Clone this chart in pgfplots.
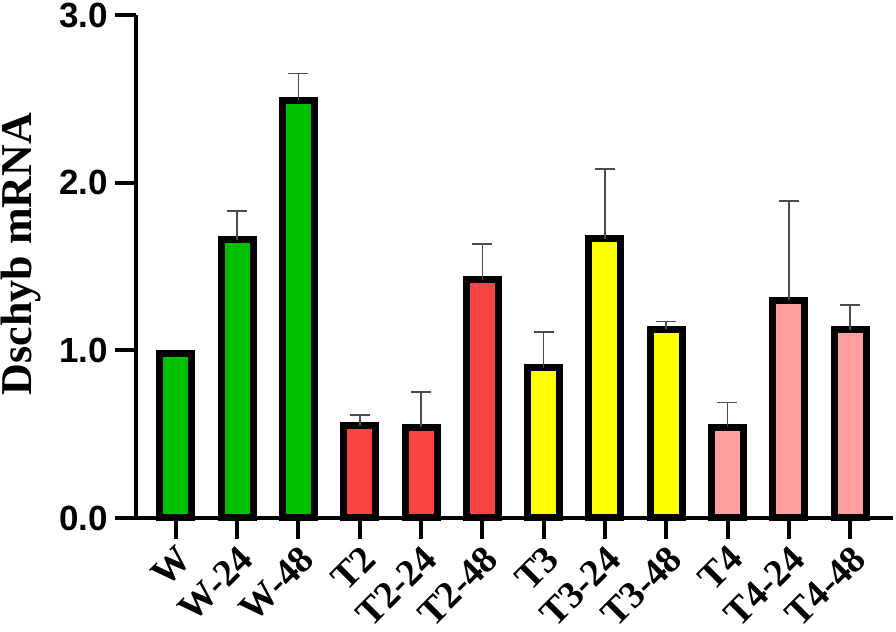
\documentclass[border=0pt]{standalone}
\usepackage{fontspec}
\setmainfont{Liberation Serif}
\newfontfamily\arialfont{Liberation Sans}
\usepackage{pgfplots}
\pgfplotsset{compat=1.18}
\definecolor{cgreen}{RGB}{0,192,0}
\definecolor{cred}{RGB}{250,68,68}
\definecolor{cyellow}{RGB}{255,255,0}
\definecolor{cpink}{RGB}{255,158,158}
\definecolor{errgray}{RGB}{75,75,75}
\pgfplotsset{
  mybar/.style={draw=black, line width=3.5pt, bar width=16pt, bar shift=0pt},
  myerr/.style={error bars/.cd, y dir=plus, y explicit,
     error bar style={line width=0.8pt, draw=errgray},
     error mark options={line width=0.8pt, draw=errgray, mark size=5pt, rotate=90}},
}
\begin{document}
\begin{tikzpicture}
\begin{axis}[
  scale only axis, width=378.5pt, height=251.5pt,
  xmin=-0.65, xmax=11.70, ymin=0, ymax=3,
  axis lines*=left,
  axis line style={line width=2pt, -},
  ybar,
  tick align=outside,
  major tick length=10.5pt,
  tick style={line width=2pt, black},
  ytick={0,1,2,3},
  xtick={0,1,2,3,4,5,6,7,8,9,10,11},
  xticklabels={W,W-24,W-48,T2,T2-24,T2-48,T3,T3-24,T3-48,T4,T4-24,T4-48},
  /pgf/number format/assume math mode=true,
  yticklabel style={/pgf/number format/.cd, fixed, fixed zerofill, precision=1,
     /tikz/.cd, font=\arialfont\bfseries\fontsize{17.5}{17.5}\selectfont},
  xticklabel style={rotate=45, anchor=north east, inner sep=1.5pt,
     font=\bfseries\fontsize{19}{19}\selectfont},
  ylabel={Dschyb mRNA},
  ylabel style={font=\bfseries\fontsize{22}{22}\selectfont, rotate=0,
     at={(axis description cs:-0.152,0.525)}, anchor=center},
  clip=false,
]
\addplot[mybar, fill=cgreen] coordinates {(0,0.98)};
\addplot[mybar, fill=cgreen, myerr] table[x=x, y=y, y error=e] {
x y e
1 1.66 0.17
2 2.49 0.16
};
\addplot[mybar, fill=cred, myerr] table[x=x, y=y, y error=e] {
x y e
3 0.55 0.065
4 0.54 0.21
5 1.42 0.215
};
\addplot[mybar, fill=cyellow, myerr] table[x=x, y=y, y error=e] {
x y e
6 0.895 0.215
7 1.665 0.415
8 1.127 0.045
};
\addplot[mybar, fill=cpink, myerr] table[x=x, y=y, y error=e] {
x y e
9 0.54 0.15
10 1.30 0.59
11 1.123 0.147
};
\end{axis}
\pgfresetboundingbox
\useasboundingbox (-68pt,-57pt) rectangle (380pt,259pt);
\end{tikzpicture}
\end{document}
